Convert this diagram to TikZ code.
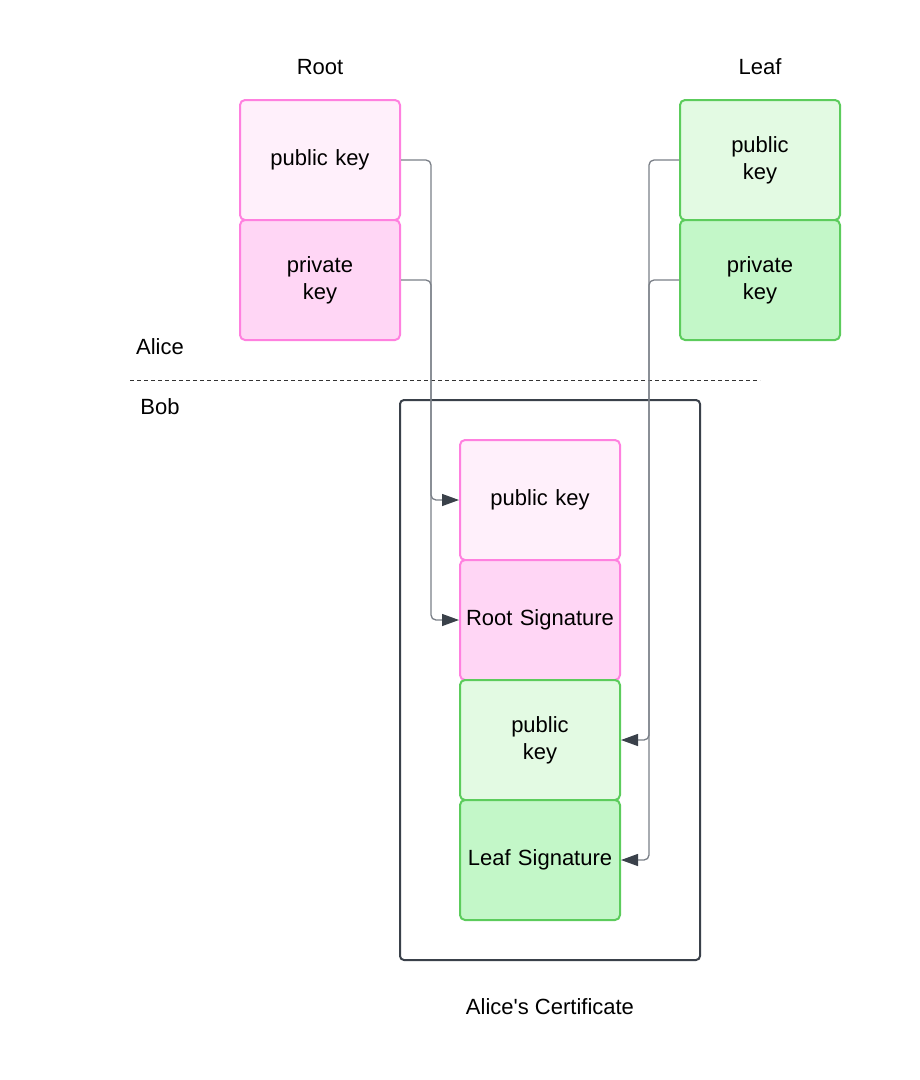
\documentclass[tikz,border=0pt]{standalone}
\usepackage{fontspec}
\setmainfont{Liberation Sans}
\usetikzlibrary{arrows.meta}
\definecolor{pinkline}{HTML}{FF80DF}
\definecolor{pinklight}{HTML}{FFF0FB}
\definecolor{pinkdark}{HTML}{FFD6F5}
\definecolor{greenline}{HTML}{5CCC5C}
\definecolor{greenlight}{HTML}{E3FAE3}
\definecolor{greendark}{HTML}{C3F7C8}
\definecolor{conn}{HTML}{7A7F87}
\definecolor{tipc}{HTML}{3A414A}
\begin{document}
\begin{tikzpicture}[x=1pt,y=-1pt,
  every node/.style={font=\fontsize{22}{27}\selectfont, text=black},
  keybox/.style={draw, line width=2pt, rounded corners=5pt, minimum width=160pt, minimum height=120pt, align=center, inner sep=0pt, text width=150pt},
  pinkA/.style={keybox, draw=pinkline, fill=pinklight},
  pinkB/.style={keybox, draw=pinkline, fill=pinkdark},
  greenA/.style={keybox, draw=greenline, fill=greenlight},
  greenB/.style={keybox, draw=greenline, fill=greendark},
  lbl/.style={inner sep=0pt},
  connector/.style={draw=conn, line width=1.3pt, rounded corners=5pt},
  arrowed/.style={connector, -{Triangle[length=17pt,width=12pt,color=tipc]}}
]
\useasboundingbox (0,0) rectangle (920,1080);
% labels
\node[lbl] (rootlbl) at (320,67) {Root};
\node[lbl] (leaflbl) at (760,67) {Leaf};
\node[lbl] (alice) at (160,347) {Alice};
\node[lbl] (bob) at (160,407) {Bob};
\node[lbl] (certlbl) at (550,1007) {Alice\textquotesingle s Certificate};
% divider
\coordinate (dl) at (130,380);
\coordinate (dr) at (760,380);
\draw[dashed, line width=0.9pt, draw=black!80, dash pattern=on 4pt off 3pt] (dl) -- (dr);
% certificate container
\node[draw=tipc, line width=2pt, rounded corners=4pt, minimum width=300pt, minimum height=560pt, inner sep=0pt] (cert) at (550,680) {};
% boxes
\node[pinkA] (rpub) at (320,160) {public key};
\node[pinkB] (rpriv) at (320,280) {private\\key};
\node[greenA] (lpub) at (760,160) {public\\key};
\node[greenB] (lpriv) at (760,280) {private\\key};
\node[pinkA] (cpub1) at (540,500) {public key};
\node[pinkB] (rsig) at (540,620) {Root Signature};
\node[greenA] (cpub2) at (540,740) {public\\key};
\node[greenB] (lsig) at (540,860) {Leaf Signature};
% connectors
\draw[arrowed] (rpub.east) -- ++(30,0) |- (cpub1.west);
\draw[arrowed] (rpriv.east) -- ++(30,0) |- (rsig.west);
\draw[arrowed] (lpub.west) -- ++(-30,0) |- (cpub2.east);
\draw[arrowed] (lpriv.west) -- ++(-30,0) |- (lsig.east);
\end{tikzpicture}
\end{document}
